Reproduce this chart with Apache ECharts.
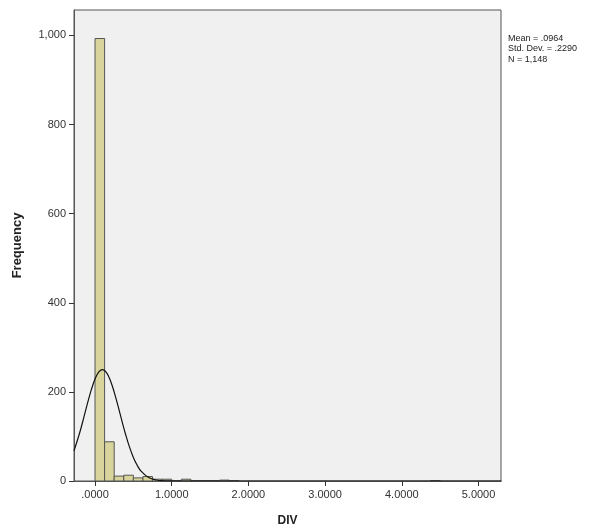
<!DOCTYPE html>
<html>
<head>
<meta charset="utf-8">
<script src="https://cdn.jsdelivr.net/npm/echarts@6/dist/echarts.min.js"></script>
<style>
html,body{margin:0;padding:0;background:#fff;}
#chart{width:598px;height:531px;}
</style>
</head>
<body>
<div id="chart"></div>
<script>
// Histogram bins (lower edges) and counts, bin width 0.125
const binWidth = 0.125;
const binLower = [0, 0.125, 0.25, 0.375, 0.5, 0.625, 0.75, 0.875, 1.0, 1.125, 1.25, 1.375, 1.5, 1.625, 1.75, 4.375];
const counts   = [993, 88, 11, 13, 7, 10, 4, 4, 1, 4, 1, 1, 1, 2, 1, 1];

// Normal curve
const curveX = [-0.274, -0.2, -0.15, -0.1, -0.05, 0, 0.05, 0.1, 0.15, 0.2, 0.25, 0.3, 0.35, 0.4, 0.45, 0.5, 0.55, 0.6, 0.7, 0.8, 0.9, 1.0, 1.2, 5.3];
const curveY = [67.6, 108.2, 140.1, 173.1, 203.8, 228.8, 244.9, 250, 243.2, 225.7, 199.6, 168.4, 135.4, 103.8, 75.9, 52.9, 35.2, 22.3, 7.8, 2.2, 0.5, 0.1, 0, 0];

const xTicks = [0, 1, 2, 3, 4, 5];
const xTickLabels = ['.0000', '1.0000', '2.0000', '3.0000', '4.0000', '5.0000'];
const yTicks = [0, 200, 400, 600, 800, 1000];
const yTickLabels = ['0', '200', '400', '600', '800', '1,000'];

const statsLines = ['Mean = .0964', 'Std. Dev. = .2290', 'N = 1,148'];

const chart = echarts.init(document.getElementById('chart'), null, {renderer: 'canvas'});

const barData = binLower.map((b, i) => [b, b + binWidth, counts[i]]);
const lineData = curveX.map((x, i) => [x, curveY[i]]);

const option = {
  backgroundColor: '#ffffff',
  animation: false,
  grid: {
    left: 74, top: 10, right: 97, bottom: 50,
    containLabel: false, outerBoundsMode: 'none',
    show: true, backgroundColor: '#F0F0F0', borderColor: '#555555', borderWidth: 1
  },
  xAxis: {
    type: 'value', min: -0.274, max: 5.293,
    name: 'DIV', nameLocation: 'middle', nameGap: 34,
    nameTextStyle: {fontFamily: 'Liberation Sans, Arial', fontWeight: 'bold', fontSize: 12, color: '#222'},
    axisLine: {show: true, onZero: false, lineStyle: {color: '#555', width: 1}},
    axisTick: {show: true, inside: false, length: 5, customValues: xTicks, lineStyle: {color: '#333'}},
    axisLabel: {
      customValues: xTicks, margin: 8,
      fontFamily: 'Liberation Sans, Arial', fontSize: 11, color: '#333',
      formatter: v => xTickLabels[xTicks.indexOf(Math.round(v))]
    },
    splitLine: {show: false}
  },
  yAxis: {
    type: 'value', min: 0, max: 1057,
    name: 'Frequency', nameLocation: 'middle', nameGap: 50, nameRotate: 90,
    nameTextStyle: {fontFamily: 'Liberation Sans, Arial', fontWeight: 'bold', fontSize: 13, color: '#222'},
    axisLine: {show: true, onZero: false, lineStyle: {color: '#555', width: 1}},
    axisTick: {show: true, inside: false, length: 5, customValues: yTicks, lineStyle: {color: '#333'}},
    axisLabel: {
      customValues: yTicks, margin: 8,
      fontFamily: 'Liberation Sans, Arial', fontSize: 11, color: '#333',
      formatter: v => yTickLabels[yTicks.indexOf(Math.round(v))]
    },
    splitLine: {show: false}
  },
  series: [
    {
      type: 'custom',
      data: barData,
      encode: {x: [0, 1], y: 2},
      clip: true,
      renderItem: function (params, api) {
        const p0 = api.coord([api.value(0), api.value(2)]);
        const p1 = api.coord([api.value(1), 0]);
        return {
          type: 'rect',
          shape: {x: p0[0], y: p0[1], width: p1[0] - p0[0], height: p1[1] - p0[1]},
          style: {fill: '#D8D49C', stroke: '#555555', lineWidth: 1}
        };
      },
      z: 2
    },
    {
      type: 'line',
      data: lineData,
      smooth: 0.4,
      showSymbol: false,
      symbol: 'none',
      clip: true,
      lineStyle: {color: '#111', width: 1.2},
      z: 3
    }
  ],
  graphic: [{
    type: 'text', left: 508, top: 33,
    style: {
      text: statsLines.join('\n'),
      font: '9px "Liberation Sans", Arial',
      lineHeight: 10.5, fill: '#222'
    }
  }]
};
chart.setOption(option);
</script>
</body>
</html>
